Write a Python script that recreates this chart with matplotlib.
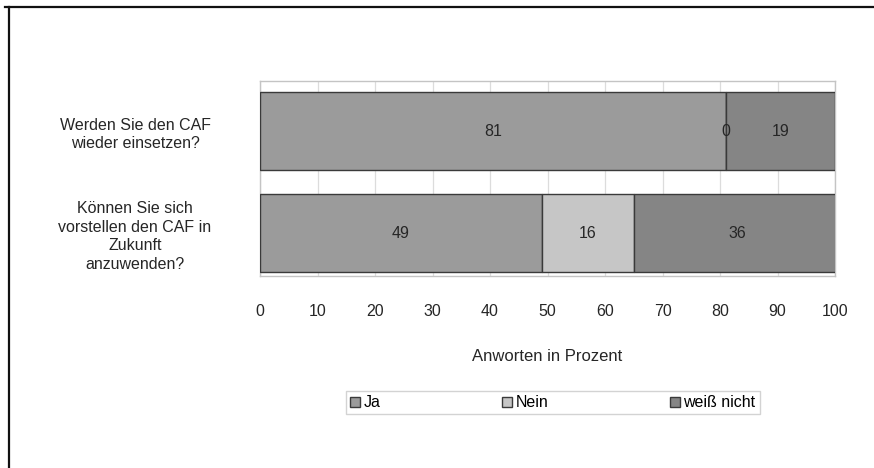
import matplotlib
matplotlib.use('Agg')
import matplotlib.pyplot as plt
from matplotlib.lines import Line2D
import numpy as np

plt.rcParams['font.family'] = ['Liberation Sans', 'DejaVu Sans']

# survey questions (top to bottom) and answer shares in percent
questions = [
    "Werden Sie den CAF\nwieder einsetzen?",
    "Können Sie sich\nvorstellen den CAF in\nZukunft\nanzuwenden?",
]
answers = ["Ja", "Nein", "weiß nicht"]
ja = [81, 49]
nein = [0, 16]
weiss_nicht = [19, 36]
ticks = list(range(0, 101, 10))

colors = ["#9b9b9b", "#c6c6c6", "#858585"]
fs = 12
txt = "#262626"

fig = plt.figure(figsize=(8.74, 4.68), dpi=100)
ax = fig.add_axes([0.2975, 0.410, 0.6579, 0.417])

y = np.arange(len(questions))
left = np.zeros(len(questions))
for name, vals, col in zip(answers, [ja, nein, weiss_nicht], colors):
    bars = ax.barh(y, vals, left=left, height=0.76, color=col,
                   edgecolor="#3a3a3a", linewidth=1.0, label=name, zorder=3)
    for b, v in zip(bars, vals):
        ax.text(b.get_x() + b.get_width() / 2, b.get_y() + b.get_height() / 2,
                str(v), ha="center", va="center", fontsize=fs - 0.5,
                color=txt, zorder=4)
    left += np.array(vals)

ax.set_xlim(0, 100)
ax.set_ylim(1.42, -0.49)
ax.set_xticks(ticks)
ax.set_yticks(y)
ax.set_yticklabels(questions, multialignment="center", linespacing=1.3)
ax.tick_params(axis="y", length=0, pad=35, labelsize=fs - 0.5, labelcolor=txt)
ax.tick_params(axis="x", length=0, pad=20, labelsize=fs - 0.5, labelcolor=txt)
ax.xaxis.grid(True, color="#dcdcdc", linewidth=0.9, zorder=0)
for s in ax.spines.values():
    s.set_color("#c4c4c4")
    s.set_linewidth(1.0)
ax.set_xlabel("Anworten in Prozent", fontsize=fs, color=txt, labelpad=22)

leg = fig.legend(loc="center", ncol=3,
                 bbox_to_anchor=(553 / 874, 0.139),
                 fontsize=fs - 0.5, frameon=True, fancybox=False,
                 handlelength=0.6, handleheight=0.6, handletextpad=0.25,
                 columnspacing=7.6, borderpad=0.25, borderaxespad=0)
leg.get_frame().set_edgecolor("#c8c8c8")
leg.get_frame().set_linewidth(1.0)

# page border lines (top and left)
fig.add_artist(Line2D([0.006, 1.0], [0.985, 0.985], color="#111111", linewidth=1.6))
fig.add_artist(Line2D([0.0105, 0.0105], [0.0, 0.985], color="#111111", linewidth=1.6))

fig.savefig("out.png", dpi=100)
plt.close(fig)
